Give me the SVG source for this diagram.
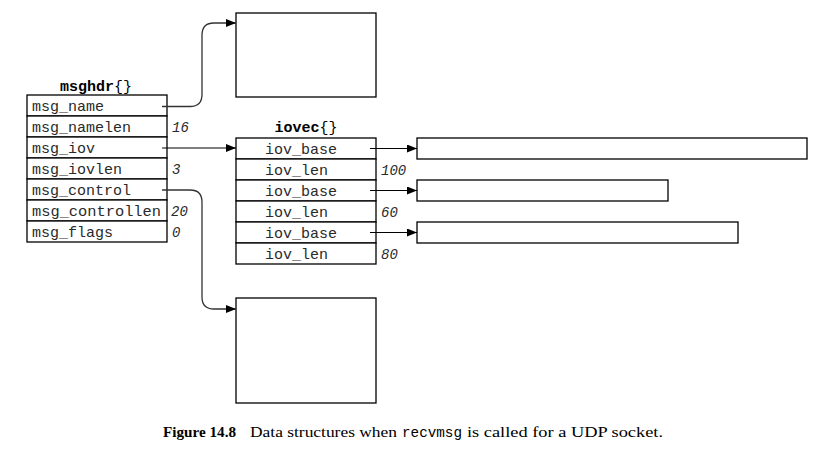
<svg xmlns="http://www.w3.org/2000/svg" width="815" height="453" viewBox="0 0 815 453">
<style>
.bg{fill:#fff}
.box{fill:#fff;stroke:#000;stroke-width:1.3}
.lbl{font-family:"Liberation Mono","DejaVu Sans Mono",monospace;font-size:15px;fill:#2a2a2a}
.ttl{font-family:"Liberation Mono","DejaVu Sans Mono",monospace;font-size:15px;font-weight:bold;fill:#000}
.br{font-weight:normal}
.val{font-family:"Liberation Mono","DejaVu Sans Mono",monospace;font-size:14px;font-style:italic;fill:#2a2a2a}
.con{fill:none;stroke:#000;stroke-width:1.2}
.cur{fill:none;stroke:#333;stroke-width:1.3}
.cap{font-family:"Liberation Serif","DejaVu Serif",serif;font-size:15px;fill:#000}
.capb{font-family:"Liberation Serif","DejaVu Serif",serif;font-size:15px;font-weight:bold;fill:#000}
.capm{font-family:"Liberation Mono","DejaVu Sans Mono",monospace;font-size:14px;fill:#000}
</style>
<defs>
<marker id="arr" markerUnits="userSpaceOnUse" markerWidth="11" markerHeight="9" refX="10" refY="4" orient="auto">
<path d="M0,0 L10,4 L0,8 z" fill="#000"/>
</marker>
</defs>
<rect class="bg" x="0" y="0" width="815" height="453"/>

<g id="msghdr">
<text class="ttl" x="96" y="91" text-anchor="middle">msghdr<tspan class="br">{}</tspan></text>
<rect class="box" x="27" y="95" width="140" height="21"/>
<rect class="box" x="27" y="116" width="140" height="21"/>
<rect class="box" x="27" y="137" width="140" height="21"/>
<rect class="box" x="27" y="158" width="140" height="21"/>
<rect class="box" x="27" y="179" width="140" height="21"/>
<rect class="box" x="27" y="200" width="140" height="21"/>
<rect class="box" x="27" y="221" width="140" height="21"/>
<text class="lbl" x="32" y="110.5">msg_name</text>
<text class="lbl" x="32" y="131.5">msg_namelen</text>
<text class="lbl" x="32" y="152.5">msg_iov</text>
<text class="lbl" x="32" y="173.5">msg_iovlen</text>
<text class="lbl" x="32" y="194.5">msg_control</text>
<text class="lbl" x="32" y="215.5" textLength="129" lengthAdjust="spacingAndGlyphs">msg_controllen</text>
<text class="lbl" x="32" y="236.5">msg_flags</text>
<text class="val" x="172" y="131.5">16</text>
<text class="val" x="172" y="173.5">3</text>
<text class="val" x="171" y="215.5">20</text>
<text class="val" x="172" y="236.5">0</text>
</g>

<g id="name_buf">
<rect class="box" x="236" y="13" width="140" height="84"/>
</g>

<g id="control_buf">
<rect class="box" x="236" y="298" width="140" height="105"/>
</g>

<g id="iovec">
<text class="ttl" x="306" y="132" text-anchor="middle">iovec<tspan class="br">{}</tspan></text>
<rect class="box" x="236" y="138" width="140" height="21"/>
<rect class="box" x="236" y="159" width="140" height="21"/>
<rect class="box" x="236" y="180" width="140" height="21"/>
<rect class="box" x="236" y="201" width="140" height="21"/>
<rect class="box" x="236" y="222" width="140" height="21"/>
<rect class="box" x="236" y="243" width="140" height="21"/>
<text class="lbl" x="265" y="153.5">iov_base</text>
<text class="lbl" x="265" y="174.5">iov_len</text>
<text class="lbl" x="265" y="195.5">iov_base</text>
<text class="lbl" x="265" y="216.5">iov_len</text>
<text class="lbl" x="265" y="237.5">iov_base</text>
<text class="lbl" x="265" y="258.5">iov_len</text>
<text class="val" x="381" y="174.5">100</text>
<text class="val" x="381" y="216.5">60</text>
<text class="val" x="381" y="258.5">80</text>
</g>

<g id="buf1"><rect class="box" x="417" y="138" width="390" height="21"/></g>
<g id="buf2"><rect class="box" x="417" y="180" width="251" height="21"/></g>
<g id="buf3"><rect class="box" x="417" y="222" width="321" height="21"/></g>

<g id="connectors">
<path class="cur" d="M162,106.5 H190 Q202,106.5 202,94.5 V35 Q202,23 214,23 H236" marker-end="url(#arr)"/>
<path class="con" d="M162,148 H236" marker-end="url(#arr)"/>
<path class="cur" d="M162,190 H190 Q202,190 202,202 V297 Q202,309 214,309 H236" marker-end="url(#arr)"/>
<path class="con" d="M370,148.5 H417" marker-end="url(#arr)"/>
<path class="con" d="M370,190.5 H417" marker-end="url(#arr)"/>
<path class="con" d="M370,232.5 H417" marker-end="url(#arr)"/>
</g>

<g id="caption">
<text class="capb" x="163" y="437" textLength="73" lengthAdjust="spacingAndGlyphs">Figure 14.8</text>
<text class="cap" x="250" y="437" textLength="147" lengthAdjust="spacingAndGlyphs">Data structures when</text>
<text class="capm" x="402" y="437" textLength="60" lengthAdjust="spacingAndGlyphs">recvmsg</text>
<text class="cap" x="467" y="437" textLength="196" lengthAdjust="spacingAndGlyphs">is called for a UDP socket.</text>
</g>
</svg>
